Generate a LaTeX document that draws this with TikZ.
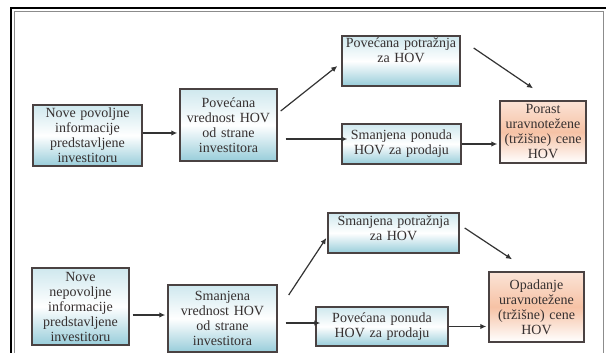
\documentclass[tikz,border=0pt]{standalone}
\usepackage{fontspec}
\setmainfont{Liberation Serif}
\usepackage{xcolor}
\usepackage{tikz}
\usetikzlibrary{
	calc,
	arrows.meta,
	positioning
	}
\definecolor{ivica}{HTML}{4A4242}
\definecolor{tekst}{HTML}{363030}
\definecolor{plava-g}{HTML}{CFE8EE}
\definecolor{plava-d}{HTML}{98CDDA}
\definecolor{narandza-g}{HTML}{FBE3D6}
\definecolor{narandza-s}{HTML}{F6C2A5}
\tikzstyle{blok-std}=[draw=ivica,line width=1.4pt,text=tekst,align=center,inner sep=2pt,
   font=\fontsize{14}{15}\selectfont,top color=plava-g,bottom color=plava-d,middle color=white]
\tikzstyle{blok-cena}=[blok-std,top color=narandza-g,bottom color=white,middle color=narandza-s]
\tikzstyle{strelica}=[line width=1.2pt,draw=black!80,-{Latex[length=6pt,width=5.5pt]}]

\begin{document}
\begin{tikzpicture}[x=1pt,y=-1pt]
\useasboundingbox (0,0) rectangle (606,353);
\fill[white] (0,0) rectangle (606,353);
\draw[line width=1.3pt] (11,353) -- (11,8) -- (606,8);
\draw[black!45,line width=0.6pt] (14,353) -- (14,11) -- (603,11) -- (603,353);

\node[blok-std,minimum width=109pt,minimum height=61pt,text width=105pt] (a1) at (87.5,135.5)
   {Nove povoljne\\informacije\\predstavljene\\investitoru};
\node[blok-std,minimum width=97pt,minimum height=72pt,text width=93pt] (b1) at (228.5,125)
   {Povećana\\vrednost HOV\\od strane\\investitora};
\node[blok-std,minimum width=118pt,minimum height=50pt,text width=114pt,text height=10pt,text depth=36pt] (c1) at (401,61)
   {Povećana potražnja\\za HOV};
\node[blok-std,minimum width=119pt,minimum height=40pt,text width=115pt] (d1) at (401.5,144)
   {Smanjena ponuda\\HOV za prodaju};
\node[blok-cena,minimum width=84pt,minimum height=62pt,text width=82pt] (e1) at (543,132)
   {Porast\\uravnotežene\\(tržišne) cene\\HOV};

\node[blok-std,minimum width=97pt,minimum height=77pt,text width=93pt] (a2) at (80.5,306.5)
   {Nove\\nepovoljne\\informacije\\predstavljene\\investitoru};
\node[blok-std,minimum width=109pt,minimum height=67pt,text width=105pt] (b2) at (222.5,318.5)
   {Smanjena\\vrednost HOV\\od strane\\investitora};
\node[blok-std,minimum width=131pt,minimum height=40pt,text width=127pt,text height=10pt,text depth=26pt] (c2) at (393.5,233)
   {Smanjena potražnja\\za HOV};
\node[blok-std,minimum width=132pt,minimum height=39pt,text width=128pt] (d2) at (382,326.5)
   {Povećana ponuda\\HOV za prodaju};
\node[blok-cena,minimum width=95pt,minimum height=70pt,text width=91pt] (e2) at (536.5,307)
   {Opadanje\\uravnotežene\\(tržišne) cene\\HOV};

\draw[strelica,shorten >=2pt] ([yshift=2.5pt]a1.east) -- ([yshift=2.5pt]a1.east -| b1.west);
\draw[strelica] ([shift={(3,-14)}]b1.east) -- ([shift={(-4,5)}]c1.west);
\draw[strelica,shorten >=2pt] ([shift={(8,14)}]b1.east) -- ([shift={(8,14)}]b1.east -| d1.west);
\draw[strelica,shorten >=2pt] (d1.east) -- (d1.east -| e1.west);
\draw[strelica] ([shift={(13,-13)}]c1.east) -- ([shift={(-10,-12)}]e1.north);

\draw[strelica,shorten >=5pt] ([shift={(3,8.5)}]a2.east) -- ([shift={(3,8.5)}]a2.east -| b2.west);
\draw[strelica] ([shift={(11,-23.5)}]b2.east) -- ([shift={(-1,5)}]c2.west);
\draw[strelica,shorten >=3pt] ([shift={(8,4.5)}]b2.east) -- ([shift={(8,4.5)}]b2.east -| d2.west);
\draw[strelica,shorten >=2pt] (d2.east) -- (d2.east -| e2.west);
\draw[strelica] ([shift={(5,-5)}]c2.east) -- ([shift={(-24.5,-12)}]e2.north);
\end{tikzpicture}
\end{document}
